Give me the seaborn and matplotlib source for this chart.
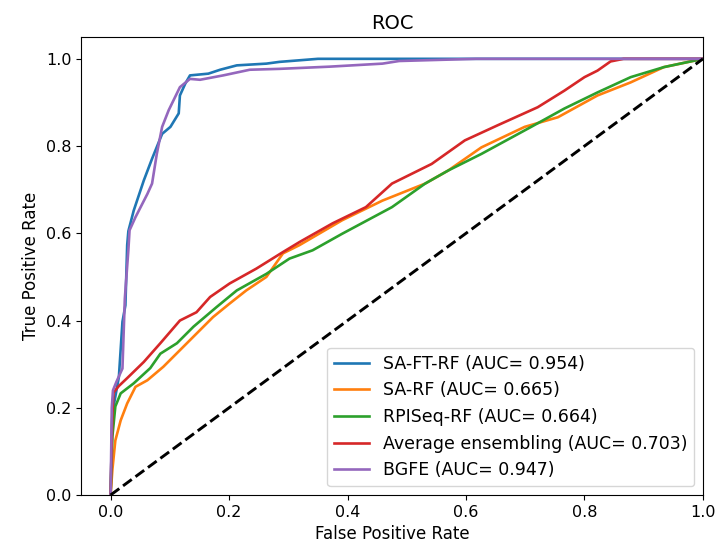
import numpy as np
import pandas as pd
import matplotlib
matplotlib.use("Agg")
import matplotlib.pyplot as plt
import seaborn as sns

# ROC points
fpr_saft = [0, 0.003, 0.014, 0.020, 0.025, 0.028, 0.030, 0.039, 0.056, 0.070, 0.087, 0.101, 0.115, 0.117,
            0.126, 0.134, 0.165, 0.185, 0.213, 0.263, 0.285, 0.35, 1.0]
tpr_saft = [0, 0.188, 0.271, 0.397, 0.435, 0.573, 0.605, 0.652, 0.721, 0.771, 0.828, 0.844, 0.875, 0.916,
            0.943, 0.962, 0.966, 0.975, 0.985, 0.989, 0.993, 1.0, 1.0]

fpr_sarf = [0, 0.003, 0.008, 0.017, 0.028, 0.042, 0.062, 0.089, 0.117, 0.145, 0.173, 0.201, 0.229, 0.263,
            0.291, 0.319, 0.391, 0.459, 0.531, 0.570, 0.626, 0.699, 0.755, 0.822, 0.878, 0.934, 1.0]
tpr_sarf = [0, 0.058, 0.125, 0.171, 0.210, 0.248, 0.263, 0.294, 0.332, 0.370, 0.408, 0.439, 0.469, 0.500,
            0.554, 0.573, 0.630, 0.675, 0.714, 0.744, 0.797, 0.844, 0.866, 0.916, 0.946, 0.981, 1.0]

fpr_rpi = [0, 0.003, 0.008, 0.017, 0.039, 0.067, 0.084, 0.112, 0.14, 0.179, 0.213, 0.263, 0.302, 0.341,
           0.391, 0.475, 0.531, 0.570, 0.626, 0.710, 0.766, 0.822, 0.878, 0.934, 1.0]
tpr_rpi = [0, 0.134, 0.203, 0.233, 0.256, 0.291, 0.324, 0.348, 0.386, 0.431, 0.469, 0.507, 0.542, 0.561,
           0.599, 0.660, 0.714, 0.744, 0.782, 0.844, 0.886, 0.923, 0.958, 0.981, 1.0]

fpr_avg = [0, 0.003, 0.005, 0.014, 0.028, 0.056, 0.084, 0.117, 0.145, 0.168, 0.201, 0.246, 0.291, 0.319,
           0.375, 0.431, 0.475, 0.542, 0.598, 0.654, 0.721, 0.766, 0.80, 0.822, 0.844, 0.866, 1.0]
tpr_avg = [0, 0.188, 0.235, 0.25, 0.268, 0.305, 0.348, 0.40, 0.419, 0.454, 0.485, 0.519, 0.557, 0.580,
           0.623, 0.660, 0.714, 0.759, 0.813, 0.848, 0.889, 0.927, 0.958, 0.973, 0.994, 1.0, 1.0]

fpr_bgfe = [0, 0.002, 0.004, 0.010, 0.020, 0.024, 0.030, 0.032, 0.042, 0.062, 0.070, 0.078, 0.087, 0.098,
            0.117, 0.134, 0.151, 0.19, 0.235, 0.285, 0.369, 0.459, 0.487, 0.617, 1.0]
tpr_bgfe = [0, 0.20, 0.24, 0.26, 0.29, 0.45, 0.562, 0.607, 0.637, 0.690, 0.714, 0.782, 0.844, 0.882,
            0.935, 0.954, 0.952, 0.962, 0.975, 0.977, 0.982, 0.989, 0.995, 1.0, 1.0]

labels = ['SA-FT-RF (AUC= 0.954)', 'SA-RF (AUC= 0.665)', 'RPISeq-RF (AUC= 0.664)',
          'Average ensembling (AUC= 0.703)', 'BGFE (AUC= 0.947)']
colors = ['#1f77b4', '#ff7f0e', '#2ca02c', '#d62728', '#9467bd']
chance = [0, 1]

curves = [(fpr_saft, tpr_saft), (fpr_sarf, tpr_sarf), (fpr_rpi, tpr_rpi),
          (fpr_avg, tpr_avg), (fpr_bgfe, tpr_bgfe)]
df = pd.concat([pd.DataFrame({'fpr': f, 'tpr': t, 'model': lab})
                for (f, t), lab in zip(curves, labels)], ignore_index=True)

plt.rcParams['font.size'] = 12
fig = plt.figure(figsize=(7.25, 5.55), dpi=100)
ax = fig.add_axes([0.1117, 0.1081, 0.8579, 0.8252])

sns.lineplot(data=df, x='fpr', y='tpr', hue='model', hue_order=labels, palette=colors,
             sort=False, estimator=None, linewidth=1.9, ax=ax)
ax.plot(chance, chance, color='k', linestyle='--', linewidth=2.1)

ax.set_xlim(-0.05, 1.0)
ax.set_ylim(0.0, 1.05)
ax.set_xticks(np.arange(0, 1.01, 0.2))
ax.set_yticks(np.arange(0, 1.01, 0.2))
ax.tick_params(labelsize=11.5)
ax.set_xlabel('False Positive Rate', fontsize=12)
ax.set_ylabel('True Positive Rate', fontsize=12)
ax.set_title('ROC', fontsize=14)
sns.move_legend(ax, 'lower right', title=None, fontsize=12.5)

fig.savefig('out.png', dpi=100)
